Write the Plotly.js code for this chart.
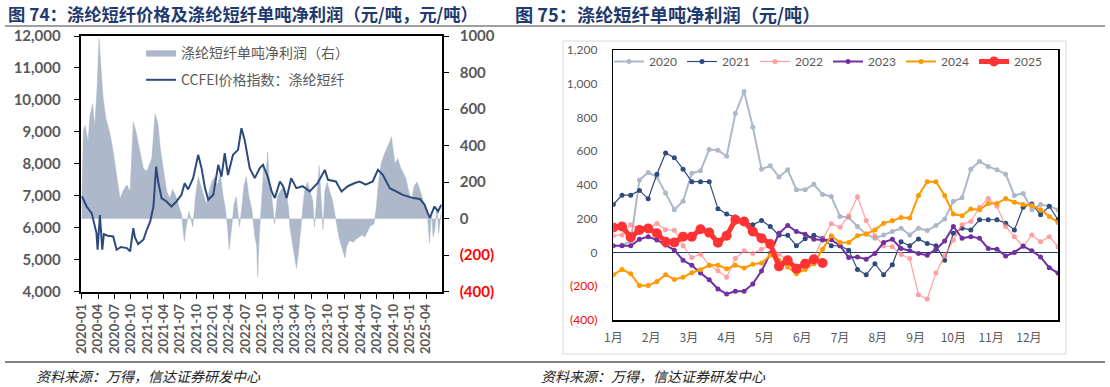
<!DOCTYPE html>
<html>
<head>
<meta charset="utf-8">
<script src="https://cdn.plot.ly/plotly-3.0.1.min.js"></script>
<style>html,body{margin:0;padding:0;background:#fff;}#chart{width:1110px;height:387px;}</style>
</head>
<body>
<div id="chart"></div>
<script>
// ---------- Figure 74 data ----------
const priceDates = ['2020-01-02','2020-01-28','2020-02-25','2020-03-23','2020-03-29','2020-04-11','2020-04-24','2020-05-03','2020-05-25','2020-06-24','2020-07-13','2020-08-06','2020-09-08','2020-09-26','2020-10-14','2020-10-23','2020-11-10','2020-12-09','2020-12-28','2021-01-16','2021-02-03','2021-02-18','2021-03-01','2021-03-20','2021-04-17','2021-05-14','2021-06-11','2021-07-09','2021-07-27','2021-08-15','2021-09-12','2021-10-10','2021-10-29','2021-11-17','2021-12-05','2022-01-02','2022-01-30','2022-02-17','2022-03-07','2022-03-25','2022-04-22','2022-05-20','2022-06-08','2022-06-26','2022-07-24','2022-08-21','2022-09-18','2022-10-06','2022-11-04','2022-11-23','2022-12-11','2023-01-08','2023-01-26','2023-02-15','2023-03-12','2023-04-10','2023-05-15','2023-06-23','2023-08-07','2023-09-15','2023-10-03','2023-11-16','2023-12-17','2024-01-21','2024-02-29','2024-03-27','2024-04-30','2024-06-08','2024-07-07','2024-08-03','2024-09-11','2024-10-18','2024-11-23','2025-01-19','2025-02-26','2025-03-24','2025-04-21','2025-05-18','2025-06-06','2025-06-25'];
const priceValues = [6980,6666,6460,5834,5312,6400,5312,5800,5750,5730,5312,5400,5365,5260,5990,5700,5490,5625,5937,6197,6666,7916,7447,6928,6823,6666,6823,7031,7396,7200,7552,8281,7865,7240,6875,7031,7968,7600,8333,7650,8281,8437,9115,8750,7865,7552,7865,7968,7552,7135,6930,7447,7300,6928,7552,7240,7300,7135,7400,7812,7500,7450,7135,7300,7400,7447,7350,7450,7812,7656,7240,7135,7030,6928,6900,6718,6302,6666,6510,6718];

const profitDates = ['2020-01-01','2020-01-10','2020-01-20','2020-02-05','2020-02-15','2020-03-01','2020-03-13','2020-03-27','2020-04-06','2020-04-16','2020-04-28','2020-05-14','2020-06-05','2020-06-22','2020-07-13','2020-08-01','2020-08-17','2020-09-07','2020-09-26','2020-10-14','2020-10-28','2020-11-20','2020-12-09','2020-12-28','2021-01-25','2021-02-12','2021-02-28','2021-03-15','2021-04-02','2021-04-18','2021-05-05','2021-05-20','2021-06-05','2021-06-25','2021-07-10','2021-07-25','2021-08-05','2021-08-20','2021-09-10','2021-09-25','2021-10-10','2021-10-25','2021-11-10','2021-11-25','2021-12-10','2021-12-25','2022-01-10','2022-01-25','2022-02-10','2022-02-25','2022-03-10','2022-03-22','2022-04-01','2022-04-12','2022-04-28','2022-05-10','2022-05-28','2022-06-10','2022-06-22','2022-07-05','2022-07-20','2022-08-05','2022-08-22','2022-09-01','2022-09-06','2022-09-15','2022-09-28','2022-10-10','2022-10-20','2022-11-01','2022-11-10','2022-11-25','2022-12-10','2022-12-25','2023-01-10','2023-01-25','2023-02-10','2023-02-25','2023-03-05','2023-03-20','2023-04-01','2023-04-10','2023-04-20','2023-05-01','2023-05-12','2023-05-25','2023-06-10','2023-06-25','2023-07-10','2023-07-20','2023-08-01','2023-08-15','2023-08-25','2023-09-05','2023-09-15','2023-09-28','2023-10-12','2023-10-28','2023-11-20','2023-12-05','2024-01-05','2024-01-15','2024-02-01','2024-02-20','2024-03-10','2024-03-25','2024-04-10','2024-04-25','2024-05-10','2024-05-25','2024-06-15','2024-06-28','2024-07-10','2024-07-25','2024-08-10','2024-08-25','2024-09-10','2024-09-20','2024-09-30','2024-10-10','2024-10-25','2024-11-10','2024-11-25','2024-12-10','2024-12-25','2025-01-10','2025-01-25','2025-02-10','2025-02-25','2025-03-10','2025-03-25','2025-04-08','2025-04-20','2025-05-01','2025-05-10','2025-05-20','2025-06-01','2025-06-10','2025-06-25'];
const profitValues = [80,480,510,420,560,630,500,730,985,860,670,550,470,380,240,110,150,185,150,530,480,370,275,260,330,575,520,370,240,150,110,160,130,60,20,-125,-40,40,-44,120,230,180,120,80,150,200,230,180,250,130,60,-40,-170,-60,80,120,-44,60,180,230,120,50,-100,-150,-320,-100,120,275,200,366,200,113,-30,120,150,170,150,60,-50,-150,-220,-271,-200,-80,50,150,200,150,100,-44,100,290,120,-60,150,200,150,100,-30,-110,-215,-150,-120,-130,-110,-100,-90,-100,-70,-40,-30,60,200,300,350,380,420,448,380,300,330,280,250,220,150,100,180,200,160,120,60,30,-135,40,-100,-60,60,-80,40];

const priceTicksRight = [-400,-200,0,200,400,600,800,1000];
const priceTicksRightText = ['<span style="color:#ff0000">(400)</span>','<span style="color:#ff0000">(200)</span>','0','200','400','600','800','1000'];

// ---------- Figure 75 data ----------
const weeks = [0,1,2,3,4,5,6,7,8,9,10,11,12,13,14,15,16,17,18,19,20,21,22,23,24,25,26,27,28,29,30,31,32,33,34,35,36,37,38,39,40,41,42,43,44,45,46,47,48,49,50,51];
const monthTickPos = [0,4.33,8.67,13,17.33,21.67,26,30.33,34.67,39,43.33,47.67];
const monthLabels = ['1月','2月','3月','4月','5月','6月','7月','8月','9月','10月','11月','12月'];
const y2020 = [null,45,65,430,474,448,352,254,304,470,484,610,606,570,824,954,744,494,514,448,490,372,372,404,344,332,214,208,154,110,84,104,124,144,104,144,130,160,198,304,324,494,540,510,490,464,338,350,254,284,274,254];
const y2021 = [284,340,340,368,318,464,590,562,494,420,420,420,260,228,210,184,164,190,154,102,102,40,82,102,84,40,40,14,-100,-132,-66,-132,-72,64,40,80,54,40,-46,114,144,134,194,194,194,174,134,268,288,224,274,194];
const y2022 = [100,104,165,140,140,172,135,132,40,-30,-10,-75,-108,-146,-36,10,-6,20,40,-10,-46,-80,-70,-30,80,170,150,218,330,190,100,40,34,-12,-36,-250,-276,-122,-20,74,164,184,268,320,274,154,94,34,104,64,94,34];
const y2023 = [40,40,40,78,94,74,44,14,-46,-76,-122,-162,-216,-246,-230,-230,-186,-110,-6,114,160,124,108,78,74,76,40,-30,-26,-40,-6,60,78,24,10,-6,-16,18,68,154,84,94,84,24,20,-20,0,38,10,-26,-90,-122];
const y2024 = [-132,-100,-126,-196,-196,-172,-132,-160,-146,-120,-102,-76,-76,-96,-76,-92,-70,-62,-16,-46,-86,-126,-100,-66,20,100,60,60,100,110,134,174,188,208,204,338,420,420,338,228,218,258,254,290,290,320,298,284,278,254,214,178];
const y2025 = [148,154,90,134,142,114,64,60,94,94,138,118,58,100,194,184,124,84,50,-82,-46,-96,-66,-40,-62];
const profitTicks75 = [-400,-200,0,200,400,600,800,1000,1200];
const profitTicks75Text = ['<span style="color:#ff0000">(400)</span>','<span style="color:#ff0000">(200)</span>','0','200','400','600','800','1,000','1,200'];

const W = 1110, H = 387;
const px = v => v / W;
const py = v => 1 - v / H;

const grayTxt = '#595959';
const cjk = '"Noto Sans CJK SC", sans-serif';
const lat = 'Lato, "Noto Sans", sans-serif';

function yearTrace(name, ys, color, width, msize, opacity) {
  return {
    type: 'scatter', mode: 'lines+markers', name: name,
    x: weeks.slice(0, ys.length), y: ys,
    xaxis: 'x3', yaxis: 'y3', legend: 'legend2',
    line: {color: color, width: width}, marker: {color: color, size: msize},
    opacity: opacity || 1, connectgaps: false, hoverinfo: 'skip'
  };
}

const data = [
  {type:'scatter', mode:'lines', name:'涤纶短纤单吨净利润（右）', x: profitDates, y: profitValues,
   xaxis:'x', yaxis:'y', fill:'tozeroy', fillcolor:'#adb9ca', line:{color:'#adb9ca', width:0.5},
   legendgroup:'a', hoverinfo:'skip'},
  {type:'scatter', mode:'lines', name:'CCFEI价格指数：涤纶短纤', x: priceDates, y: priceValues,
   xaxis:'x', yaxis:'y2', line:{color:'#2e4a7d', width:2}, legendgroup:'b', hoverinfo:'skip'},
  yearTrace('2020', y2020, '#adb9ca', 2, 5),
  yearTrace('2021', y2021, '#2f4b7c', 1.2, 5),
  yearTrace('2022', y2022, '#ff8080', 1.2, 5, 0.75),
  yearTrace('2023', y2023, '#7030a0', 2, 5),
  yearTrace('2024', y2024, '#ff9900', 2, 5),
  yearTrace('2025', y2025, '#ff3333', 5, 10)
];

const layout = {
  width: W, height: H, autosize: false,
  margin: {l:0, r:0, t:0, b:0},
  paper_bgcolor: '#ffffff', plot_bgcolor: 'rgba(0,0,0,0)',
  showlegend: true,
  font: {family: lat, color: grayTxt},
  xaxis: {
    domain: [px(80.7), px(441.7)], anchor: 'y', type: 'date',
    range: ['2019-12-26', '2025-06-27'],
    tick0: '2020-01-01', dtick: 'M3', tickformat: '%Y-%m', tickangle: -90,
    ticks: 'outside', ticklen: 5, tickcolor: '#000', tickwidth: 1,
    showline: true, linecolor: '#000', linewidth: 2, mirror: true,
    showgrid: false, zeroline: false,
    tickfont: {family: lat, size: 13, color: grayTxt, weight: 'bold'}
  },
  yaxis: {
    domain: [py(291.7), py(36)], anchor: 'x', side: 'right',
    range: [-400, 1000], tickvals: priceTicksRight, ticktext: priceTicksRightText,
    ticks: 'outside', ticklen: 5, tickcolor: '#000',
    showline: true, linecolor: '#000', linewidth: 2, mirror: true,
    showgrid: false, zeroline: false, ticklabelstandoff: 8,
    tickfont: {family: lat, size: 15, color: grayTxt, weight: 'bold'}
  },
  yaxis2: {
    overlaying: 'y', side: 'left', anchor: 'x',
    range: [4000, 12000], dtick: 1000, tickformat: ',d',
    ticks: 'outside', ticklen: 5, tickcolor: '#000',
    showline: true, linecolor: '#000', linewidth: 2,
    showgrid: false, zeroline: false, ticklabelstandoff: 10,
    tickfont: {family: lat, size: 15, color: grayTxt, weight: 'bold'}
  },
  xaxis3: {
    domain: [px(613.3), px(1058)], anchor: 'y3',
    range: [0, 51], tickvals: monthTickPos, ticktext: monthLabels,
    ticks: '', showline: true, linecolor: '#000', linewidth: 1.5, mirror: true,
    showgrid: false, zeroline: false, ticklabelstandoff: 6,
    tickfont: {family: cjk, size: 12, color: grayTxt}
  },
  yaxis3: {
    domain: [py(320), py(50)], anchor: 'x3',
    range: [-400, 1200], tickvals: profitTicks75, ticktext: profitTicks75Text,
    ticks: '', showline: true, linecolor: '#000', linewidth: 1.5, mirror: true,
    showgrid: false, zeroline: true, zerolinecolor: '#1f3864', zerolinewidth: 1.5,
    ticklabelstandoff: 12,
    tickfont: {family: lat, size: 12, color: grayTxt}
  },
  legend: {
    x: px(141), y: py(37), xanchor: 'left', yanchor: 'top',
    bgcolor: 'rgba(0,0,0,0)', borderwidth: 0,
    traceorder: 'grouped', tracegroupgap: 6,
    font: {family: cjk, size: 14, color: grayTxt}
  },
  legend2: {
    orientation: 'h', x: px(609), y: py(47), xanchor: 'left', yanchor: 'top',
    bgcolor: 'rgba(0,0,0,0)', borderwidth: 0,
    entrywidth: 28, entrywidthmode: 'pixels', itemwidth: 30,
    font: {family: lat, size: 12, color: grayTxt}
  },
  shapes: [
    {type:'line', xref:'paper', yref:'paper', x0:px(5), x1:px(1105), y0:py(26), y1:py(26), line:{color:'#7f7f7f', width:1.5}},
    {type:'line', xref:'paper', yref:'paper', x0:px(5), x1:px(1105), y0:py(362), y1:py(362), line:{color:'#595959', width:1.5}},
    {type:'rect', xref:'paper', yref:'paper', x0:px(563), x1:px(1066), y0:py(354), y1:py(41), line:{color:'#d9d9d9', width:1}, fillcolor:'rgba(0,0,0,0)'}
  ],
  annotations: [
    {xref:'paper', yref:'paper', x:px(6), y:py(14), xanchor:'left', yanchor:'middle', showarrow:false,
     text:'图 74：涤纶短纤价格及涤纶短纤单吨净利润（元/吨，元/吨）', font:{family:cjk, size:17.3, color:'#1f3a6e', weight:'bold'}},
    {xref:'paper', yref:'paper', x:px(513), y:py(14), xanchor:'left', yanchor:'middle', showarrow:false,
     text:'图 75：涤纶短纤单吨净利润（元/吨）', font:{family:cjk, size:18.2, color:'#1f3a6e', weight:'bold'}},
    {xref:'paper', yref:'paper', x:px(34), y:py(376), xanchor:'left', yanchor:'middle', showarrow:false,
     text:'资料来源：万得，信达证券研发中心', font:{family:cjk, size:14, color:'#222', style:'italic'}},
    {xref:'paper', yref:'paper', x:px(539), y:py(376), xanchor:'left', yanchor:'middle', showarrow:false,
     text:'资料来源：万得，信达证券研发中心', font:{family:cjk, size:14, color:'#222', style:'italic'}}
  ]
};

Plotly.newPlot('chart', data, layout, {staticPlot: true, displayModeBar: false});
</script>
</body>
</html>
